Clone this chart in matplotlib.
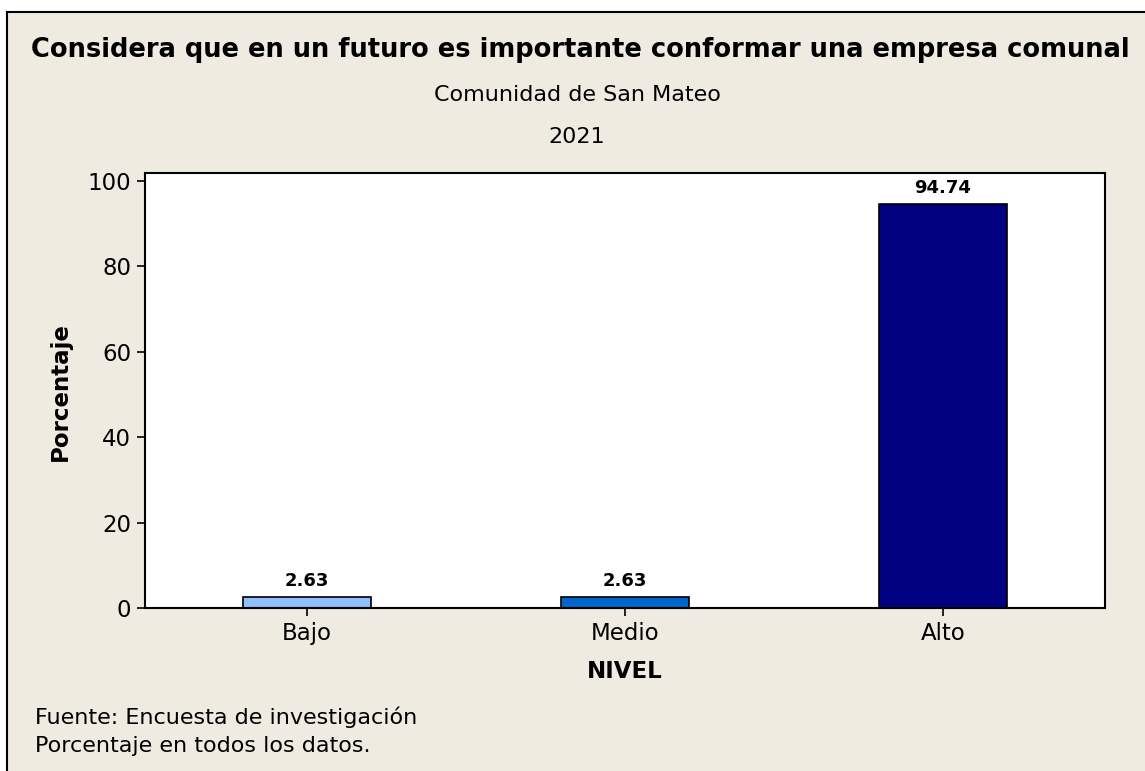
import matplotlib
matplotlib.use("Agg")
import matplotlib.pyplot as plt
from matplotlib.patches import Rectangle
from matplotlib.lines import Line2D

categories = ["Bajo", "Medio", "Alto"]
values = [2.63, 2.63, 94.74]
value_labels = ["2.63", "2.63", "94.74"]
bar_colors = ["#8FBFFF", "#0066CC", "#000080"]
yticks = [0, 20, 40, 60, 80, 100]

title = "Considera que en un futuro es importante conformar una empresa comunal"
subtitle1 = "Comunidad de San Mateo"
subtitle2 = "2021"
xlabel = "NIVEL"
ylabel = "Porcentaje"
foot1 = "Fuente: Encuesta de investigación"
foot2 = "Porcentaje en todos los datos."

W, H = 1145, 771
BG = "#EFEBE1"
plt.rcParams['font.family'] = ['DejaVu Sans']

fig = plt.figure(figsize=(W / 100, H / 100), dpi=100)
fig.patch.set_facecolor("white")

def fx(px):
    return px / W

def fy(py):
    return 1 - py / H

# beige panel with black top/left border
fig.patches.append(Rectangle((fx(7), 0), 1 - fx(7), fy(12), transform=fig.transFigure,
                             facecolor=BG, edgecolor="none", zorder=-10))
fig.lines.append(Line2D([fx(7), fx(7)], [0, fy(12)], transform=fig.transFigure, color="black", lw=1.5, zorder=-5))
fig.lines.append(Line2D([fx(7), 1], [fy(12), fy(12)], transform=fig.transFigure, color="black", lw=1.5, zorder=-5))

ax = fig.add_axes([fx(145), fy(608), fx(1105) - fx(145), fy(173) - fy(608)])
ax.set_zorder(1)
ax.set_facecolor("white")
x = list(range(len(categories)))
ax.bar(x, values, width=0.405, color=bar_colors, edgecolor="black", linewidth=1.2, zorder=2)
for xi, v, lab in zip(x, values, value_labels):
    ax.annotate(lab, (xi, v), xytext=(0, 5), textcoords="offset points",
                ha="center", va="bottom", fontsize=13, fontweight="bold")

ax.set_xlim(-0.51, 2.51)
ax.set_ylim(0, 101.9)
ax.set_xticks(x)
ax.set_xticklabels(categories)
ax.set_yticks(yticks)
ax.tick_params(axis="both", labelsize=16.5, length=6, width=1.2, direction="out", color="black", pad=4)
for s in ax.spines.values():
    s.set_linewidth(1.5)
    s.set_color("black")

fig.text(fx(580), fy(50), title, ha="center", va="center", fontsize=18.5, fontweight="bold")
fig.text(fx(577), fy(95), subtitle1, ha="center", va="center", fontsize=16)
fig.text(fx(577), fy(137), subtitle2, ha="center", va="center", fontsize=16)
fig.text(fx(625), fy(672), xlabel, ha="center", va="center", fontsize=16.5, fontweight="bold")
fig.text(fx(60), fy(392), ylabel, ha="center", va="center", rotation=90, fontsize=16.5, fontweight="bold")
fig.text(fx(35), fy(717), foot1, ha="left", va="center", fontsize=16)
fig.text(fx(35), fy(746), foot2, ha="left", va="center", fontsize=16)

fig.savefig("out.png", dpi=100, facecolor=fig.get_facecolor())
